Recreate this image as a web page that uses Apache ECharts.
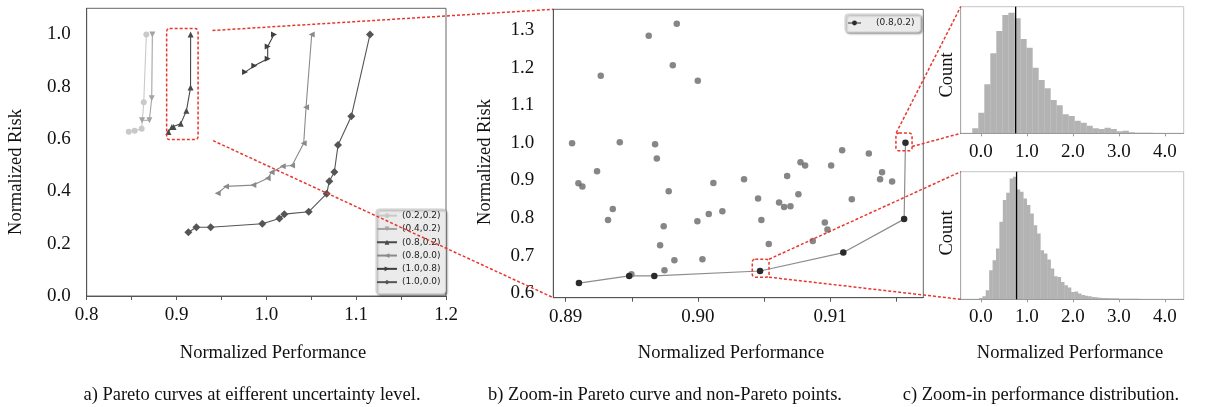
<!DOCTYPE html>
<html><head><meta charset="utf-8">
<script src="https://cdn.jsdelivr.net/npm/echarts@6/dist/echarts.min.js"></script>
<style>html,body{margin:0;padding:0;background:#fff}#c{width:1219px;height:407px}</style>
</head><body><div id="c"></div>
<script>
// ---------- DATA ----------
const legendNames = ['(0.2,0.2)','(0.4,0.2)','(0.8,0.2)','(0.8,0.0)','(1.0,0.8)','(1.0,0.0)'];
const s02_02 = [[0.8468,0.628],[0.8534,0.632],[0.8612,0.639],[0.8635,0.741],[0.8664,1.000]];
const s04_02 = [[0.8616,0.672],[0.8698,0.672],[0.8724,0.756],[0.8731,1.000]];
const s08_02 = [[0.8910,0.627],[0.8948,0.646],[0.8967,0.646],[0.9047,0.659],[0.9110,0.708],[0.9156,0.797],[0.9157,1.000]];
const s08_00 = [[0.9458,0.393],[0.9551,0.419],[0.9855,0.424],[1.0015,0.450],[1.0059,0.473],[1.0182,0.496],[1.0286,0.499],[1.0416,0.584],[1.0442,0.722],[1.0505,1.000]];
const s10_08 = [[0.9763,0.856],[0.9866,0.880],[1.0015,0.907],[1.0015,0.954],[1.0085,1.000]];
const s10_00 = [[0.9132,0.244],[0.9221,0.263],[0.9380,0.263],[0.9955,0.276],[1.0145,0.296],[1.0200,0.313],[1.0471,0.322],[1.0672,0.391],[1.0701,0.439],[1.0757,0.474],[1.0798,0.577],[1.0946,0.687],[1.1154,1.000]];
const nonPareto = [[0.89048,0.9987],[0.89096,0.8924],[0.89126,0.8835],[0.89237,0.9243],[0.89265,1.1786],[0.89320,0.7949],[0.89356,0.8242],[0.89409,1.0014],[0.89497,0.6505],[0.89628,1.2849],[0.89676,0.9961],[0.89689,0.9580],[0.89714,0.7276],[0.89741,0.7781],[0.89747,0.6611],[0.89779,0.8711],[0.89810,1.2061],[0.89822,0.6877],[0.89840,1.3168],[0.89996,0.7914],[0.89999,1.1653],[0.90034,0.6904],[0.90082,0.8109],[0.90117,0.8933],[0.90185,0.8180],[0.90349,0.9030],[0.90455,0.8516],[0.90480,0.7949],[0.90536,0.7311],[0.90614,0.8410],[0.90652,0.8295],[0.90675,0.9119],[0.90700,0.8313],[0.90760,0.8632],[0.90776,0.9482],[0.90811,0.9394],[0.90869,0.7391],[0.90960,0.7878],[0.90980,0.7692],[0.91008,0.9394],[0.91091,0.9801],[0.91164,0.8499],[0.91293,0.9713],[0.91378,0.9030],[0.91393,0.9216],[0.91469,0.8968]];
const histTopStart = -0.188, histTopWidth = 0.1307;
const histTopCounts = [15,62,147,240,307,355,362,345,283,257,197,160,135,100,84,57,52,38,32,23,15,13,17,13,6,8,3,2,2,2,1,1,1,1];
const histBotStart = -0.118, histBotWidth = 0.0742;
const histBotCounts = [1,4,9,27,87,117,152,232,297,319,362,367,329,322,302,282,257,222,197,147,137,119,92,69,67,52,42,35,22,23,17,13,11,9,7,6,5,4,4,3,3,3,2,2,2,2,2,2,1,1,1,1,1,1,1,1,1,1,1,1];
const medianTop = 0.755, medianBot = 0.775;
const leftXLabels = [0.8,0.9,1.0,1.1,1.2];
const leftYLabels = [0.0,0.2,0.4,0.6,0.8,1.0];
const midXLabels = [0.89,0.90,0.91];
const midXTicks = [0.89,0.895,0.90,0.905,0.91,0.915];
const midYLabels = [0.6,0.7,0.8,0.9,1.0,1.1,1.2,1.3];
const histXLabels = [0,1,2,3,4];
const captions = ['a) Pareto curves at eifferent uncertainty level.','b) Zoom-in Pareto curve and non-Pareto points.','c) Zoom-in performance distribution.'];

// ---------- CHART ----------
const SERIF = '"Liberation Serif","Times New Roman",serif';
const chart = echarts.init(document.getElementById('c'), null, {renderer:'canvas'});
const lbl = (fmt, margin, vals) => ({customValues: vals, formatter: v => v.toFixed(fmt), fontFamily: SERIF, fontSize: 19, color: '#111', margin});

function histSeries(counts, start, width, idx) {
  const data = counts.map((c, i) => [start + i * width, start + (i + 1) * width, c]);
  return {type: 'custom', xAxisIndex: idx, yAxisIndex: idx, data, encode: {x: [0, 1], y: 2}, clip: true, silent: true,
    renderItem: (params, api) => {
      const p0 = api.coord([api.value(0), 0]);
      const p1 = api.coord([api.value(1), api.value(2)]);
      return {type: 'rect', shape: {x: p0[0], y: p1[1], width: p1[0] - p0[0] + 0.3, height: p0[1] - p1[1]}, style: {fill: '#b3b3b3'}};
    }};
}
function lineS(name, data, color, symbol, rot, size) {
  return {name, type: 'line', xAxisIndex: 0, yAxisIndex: 0, data, symbol, symbolRotate: rot, symbolSize: size,
    lineStyle: {color, width: 1.1}, itemStyle: {color}, showSymbol: true, z: 3};
}
const txt = (text, x, y, rot, size) => ({type: 'text', x, y, rotation: rot || 0,
  style: {text, fontFamily: SERIF, fontSize: size || 18.5, fill: '#111', align: 'center', verticalAlign: 'middle'}});

const option = {
  animation: false,
  backgroundColor: '#fff',
  grid: [
    {left: 86.7, top: 8.3, width: 359.3, height: 287.7, show: true, borderColor: '#666', borderWidth: 1},
    {left: 553.3, top: 9.3, width: 370, height: 288.4, show: true, borderColor: '#666', borderWidth: 1},
    {left: 960.7, top: 6.7, width: 223, height: 126.6, show: true, borderColor: '#c4c4c4', borderWidth: 1},
    {left: 960.7, top: 171.7, width: 223, height: 127.6, show: true, borderColor: '#c4c4c4', borderWidth: 1}
  ],
  xAxis: [
    {gridIndex: 0, type: 'value', min: 0.8, max: 1.2, interval: 0.05, axisLine: {onZero: false, lineStyle: {color: '#555'}},
      axisTick: {length: 4, lineStyle: {color: '#555'}}, axisLabel: lbl(1, 10, leftXLabels), splitLine: {show: false}},
    {gridIndex: 1, type: 'value', min: 0.88906, max: 0.91705, axisLine: {onZero: false, lineStyle: {color: '#555'}},
      axisTick: {length: 4, customValues: midXTicks, lineStyle: {color: '#555'}}, axisLabel: lbl(2, 10, midXLabels), splitLine: {show: false}},
    {gridIndex: 2, type: 'value', min: -0.44, max: 4.41, axisLine: {onZero: false, lineStyle: {color: '#999'}},
      axisTick: {length: 3, customValues: histXLabels, lineStyle: {color: '#999'}}, axisLabel: lbl(1, 9, histXLabels), splitLine: {show: false}},
    {gridIndex: 3, type: 'value', min: -0.44, max: 4.41, axisLine: {onZero: false, lineStyle: {color: '#999'}},
      axisTick: {length: 3, customValues: histXLabels, lineStyle: {color: '#999'}}, axisLabel: lbl(1, 8, histXLabels), splitLine: {show: false}}
  ],
  yAxis: [
    {gridIndex: 0, type: 'value', min: 0, max: 1.1, axisLine: {show: true, onZero: false, lineStyle: {color: '#555'}},
      axisTick: {show: false}, axisLabel: lbl(1, 16, leftYLabels), splitLine: {show: false}},
    {gridIndex: 1, type: 'value', min: 0.588, max: 1.355, axisLine: {show: true, onZero: false, lineStyle: {color: '#555'}},
      axisTick: {show: false}, axisLabel: lbl(1, 19, midYLabels), splitLine: {show: false}},
    {gridIndex: 2, type: 'value', min: 0, max: 380, axisLine: {show: true, onZero: false, lineStyle: {color: '#aaa'}},
      axisTick: {show: false}, axisLabel: {show: false}, splitLine: {show: false}},
    {gridIndex: 3, type: 'value', min: 0, max: 382, axisLine: {show: true, onZero: false, lineStyle: {color: '#aaa'}},
      axisTick: {show: false}, axisLabel: {show: false}, splitLine: {show: false}}
  ],
  legend: [
    {data: legendNames, orient: 'vertical', left: 376, top: 209, itemWidth: 20, itemHeight: 6, itemGap: 0,
      padding: [0, 5, 5, 0], selectedMode: false,
      textStyle: {fontFamily: '"DejaVu Sans"', fontSize: 9, color: '#222', lineHeight: 13.3},
      backgroundColor: '#ebebeb', borderColor: '#d0d0d0', borderWidth: 1, borderRadius: 3,
      shadowBlur: 2, shadowColor: 'rgba(0,0,0,0.35)', shadowOffsetX: 1.5, shadowOffsetY: 1.5},
    {data: ['(0.8,0.2) pareto'], formatter: () => '(0.8,0.2)', orient: 'vertical', left: 845, top: 14,
      itemWidth: 13, itemHeight: 6, padding: [3, 6, 3, 2], selectedMode: false,
      textStyle: {fontFamily: '"DejaVu Sans"', fontSize: 9, color: '#222', lineHeight: 12, padding: [0, 0, 0, 10]},
      backgroundColor: '#ebebeb', borderColor: '#d0d0d0', borderWidth: 1, borderRadius: 3,
      shadowBlur: 2, shadowColor: 'rgba(0,0,0,0.35)', shadowOffsetX: 1.5, shadowOffsetY: 1.5}
  ],
  series: [
    lineS(legendNames[0], s02_02, '#c9c9c9', 'circle', 0, 6),
    lineS(legendNames[1], s04_02, '#a3a3a3', 'triangle', 180, 6),
    lineS(legendNames[2], s08_02, '#4a4a4a', 'triangle', 0, 6),
    lineS(legendNames[3], s08_00, '#8a8a8a', 'triangle', 90, 6),
    lineS(legendNames[4], s10_08, '#3f3f3f', 'triangle', -90, 6),
    lineS(legendNames[5], s10_00, '#555555', 'diamond', 0, 8),
    {name: 'non-Pareto', type: 'scatter', xAxisIndex: 1, yAxisIndex: 1, data: nonPareto, symbolSize: 6.5,
      itemStyle: {color: '#686868'}, z: 2},
    {name: '(0.8,0.2) pareto', type: 'line', xAxisIndex: 1, yAxisIndex: 1, data: s08_02, symbol: 'circle', symbolSize: 6.5,
      lineStyle: {color: '#8c8c8c', width: 1.2}, itemStyle: {color: '#2b2b2b'}, z: 3},
    histSeries(histTopCounts, histTopStart, histTopWidth, 2),
    histSeries(histBotCounts, histBotStart, histBotWidth, 3),
    {type: 'line', xAxisIndex: 2, yAxisIndex: 2, data: [[medianTop, 0], [medianTop, 380]], symbol: 'none',
      lineStyle: {color: '#000', width: 1.3}, z: 4},
    {type: 'line', xAxisIndex: 3, yAxisIndex: 3, data: [[medianBot, 0], [medianBot, 382]], symbol: 'none',
      lineStyle: {color: '#000', width: 1.3}, z: 4}
  ],
  graphic: [
    txt('Normalized Performance', 273, 353),
    txt('Normalized Performance', 731, 353),
    txt('Normalized Performance', 1070, 353),
    txt('Normalized Risk', 16, 172, Math.PI / 2),
    txt('Normalized Risk', 485, 162, Math.PI / 2),
    txt('Count', 947.5, 75, Math.PI / 2),
    txt('Count', 947.5, 233, Math.PI / 2),
    txt(captions[0], 252, 395),
    txt(captions[1], 665, 395),
    txt(captions[2], 1041, 395)
  ]
};
chart.setOption(option);

// ---------- zoom annotations (red dashed), placed via data coordinates ----------
const P = (g, pt) => chart.convertToPixel({gridIndex: g}, pt);
const RED = '#e8372e';
const dashStyle = {stroke: RED, lineWidth: 1.5, lineDash: [3, 2], fill: 'none'};
function box(g, x0, x1, y0, y1) {
  const a = P(g, [x0, y1]), b = P(g, [x1, y0]);
  return {type: 'rect', z: 100, shape: {x: a[0], y: a[1], width: b[0] - a[0], height: b[1] - a[1], r: 3}, style: dashStyle};
}
function seg(a, b) {
  return {type: 'line', z: 100, shape: {x1: a[0], y1: a[1], x2: b[0], y2: b[1]}, style: dashStyle};
}
const midTL = P(1, [0.88906, 1.355]), midBL = P(1, [0.88906, 0.588]);
const h1TL = P(2, [-0.44, 380]), h1BL = P(2, [-0.44, 0]);
const h2TL = P(3, [-0.44, 382]), h2BL = P(3, [-0.44, 0]);
const extra = [
  box(0, 0.889, 0.924, 0.598, 1.023),
  seg(P(0, [0.940, 1.015]), midTL),
  seg(P(0, [0.9407, 0.594]), midBL),
  box(1, 0.91498, 0.9162, 0.9785, 1.0263),
  box(1, 0.90411, 0.90538, 0.6426, 0.6904),
  seg(P(1, [0.91500, 1.0263]), h1TL),
  seg(P(1, [0.9162, 0.990]), h1BL),
  seg(P(1, [0.90538, 0.6904]), h2TL),
  seg(P(1, [0.90538, 0.6426]), h2BL)
];
chart.setOption({graphic: option.graphic.concat(extra)});
</script></body></html>
